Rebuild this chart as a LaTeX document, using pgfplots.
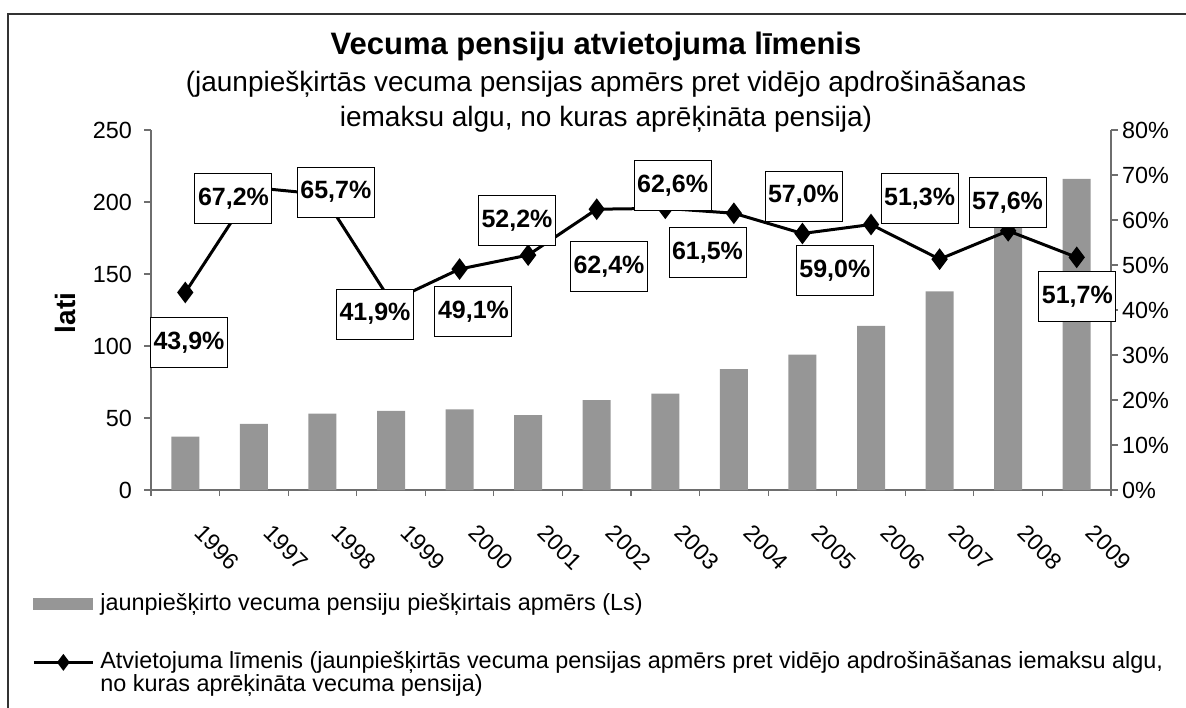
\documentclass[border=0pt]{standalone}
\usepackage{pgfplots}
\pgfplotsset{compat=1.18}
\usepackage{pgfplotstable}
\usepackage{fontspec}
\setmainfont{Liberation Sans}
\definecolor{barc}{RGB}{150,150,150}
\definecolor{axc}{RGB}{110,110,110}
\pgfplotsset{ratelegend/.style={legend image code/.code={\draw[mark repeat=2,mark phase=2,##1,mark size=3pt] plot coordinates {(0pt,3pt) (14.75pt,3pt) (29.5pt,3pt)};}}}

\pgfplotstableread{
x v
0 37
1 46
2 53
3 55
4 56
5 52
6 62.5
7 67
8 84
9 94
10 114
11 138
12 185
13 216
}\bars

\pgfplotstableread{
x y lx ly
0 43.9 0.054 32.7
1 67.2 0.703 64.8
2 65.7 2.195 66.2
3 41.9 2.767 39.1
4 49.1 4.203 39.6
5 52.2 4.838 59.8
6 62.4 6.179 49.6
7 62.6 7.107 67.7
8 61.5 7.616 52.7
9 57.0 9.016 65.3
10 59.0 9.472 48.7
11 51.3 10.708 64.8
12 57.6 11.991 63.8
13 51.7 13.009 42.9
}\rate

\begin{document}
\begin{tikzpicture}[x=1pt,y=1pt]
\useasboundingbox (0,0) rectangle (593,353.5);
\draw[line width=0.8pt, black!80] (4,-5) -- (4,346.5) -- (600,346.5);
\node[font=\fontsize{15.5}{18}\bfseries\selectfont, anchor=base] at (298,326) {Vecuma pensiju atvietojuma līmenis};
\node[font=\fontsize{14}{16}\selectfont, anchor=base] at (303,307.5) {(jaunpiešķirtās vecuma pensijas apmērs pret vidējo apdrošināšanas};
\node[font=\fontsize{14}{16}\selectfont, anchor=base] at (303,290) {iemaksu algu, no kuras aprēķināta pensija)};
\node[font=\fontsize{14}{16}\bfseries\selectfont, rotate=90] at (32.5,197) {lati};

\begin{axis}[
  at={(75.5pt,108.5pt)}, anchor=south west,
  scale only axis, width=480pt, height=180pt,
  xmin=-0.5, xmax=13.5, ymin=0, ymax=250,
  axis x line*=bottom, axis y line*=left,
  axis line style={axc, line width=0.6pt},
  every tick/.style={axc, line width=0.6pt},
  tick align=outside,
  major tick length=3.3pt, minor tick length=3pt,
  ytick={0,50,...,250}, yticklabels={0,50,100,150,200,250},
  xtick={0,...,13},
  xticklabels={1996,1997,1998,1999,2000,2001,2002,2003,2004,2005,2006,2007,2008,2009},
  major x tick style={draw=none},
  minor xtick={-0.5,0.5,...,13.5},
  yticklabel style={font=\fontsize{11.7}{13}\selectfont, inner sep=0pt, xshift=-6pt},
  xticklabel style={font=\fontsize{11.5}{13}\selectfont, inner sep=0pt, xshift=9.8pt, yshift=-13.2pt, rotate=-45, anchor=north west},
  ybar, bar width=14pt,
]
\addplot[fill=barc, draw=none] table[x=x,y=v]{\bars};
\end{axis}

\begin{axis}[
  at={(75.5pt,108.5pt)}, anchor=south west,
  scale only axis, width=480pt, height=180pt,
  xmin=-0.5, xmax=13.5, ymin=0, ymax=80,
  axis x line=none, axis y line*=right,
  axis line style={axc, line width=0.6pt},
  every tick/.style={axc, line width=0.6pt},
  tick align=outside, major tick length=3.3pt,
  ytick={0,10,...,80},
  yticklabels={0\%,10\%,20\%,30\%,40\%,50\%,60\%,70\%,80\%},
  yticklabel style={font=\fontsize{11.7}{13}\selectfont, inner sep=0pt, xshift=2pt},
  clip=false,
  legend style={at={(-0.124,-0.286)}, anchor=north west, draw=none, fill=none,
    inner sep=0pt, row sep={29pt,between origins}, column sep=3pt,
    nodes={inner sep=0pt, font=\fontsize{11.7}{11.5}\selectfont}},
  legend cell align=left,
  legend style={cells={anchor=base west}},
]
\addlegendimage{legend image code/.code={\fill[barc] (0pt,0.5pt) rectangle (29.5pt,6pt);}}
\addlegendentry{jaunpiešķirto vecuma pensiju piešķirtais apmērs (Ls)}
\addplot[black, line width=1.5pt, mark=diamond*, mark size=4.2pt, ratelegend]
  table[x=x,y=y]{\rate};
\addlegendentry{\parbox[t]{560pt}{Atvietojuma līmenis (jaunpiešķirtās vecuma pensijas apmērs pret vidējo apdrošināšanas iemaksu algu,\\ no kuras aprēķināta vecuma pensija)}}
\addplot[draw=none, mark=none, point meta=explicit,
  nodes near coords={\pgfmathprintnumber[fixed,fixed zerofill,precision=1,use comma,assume math mode=true]{\pgfplotspointmeta}\%},
  every node near coord/.append style={anchor=center, draw=black, line width=0.5pt, fill=white,
    minimum width=38.5pt, minimum height=25pt, inner sep=0pt,
    font=\fontsize{12.5}{14}\bfseries\selectfont}]
  table[x=lx,y=ly,meta=y]{\rate};
\end{axis}
\end{tikzpicture}
\end{document}
